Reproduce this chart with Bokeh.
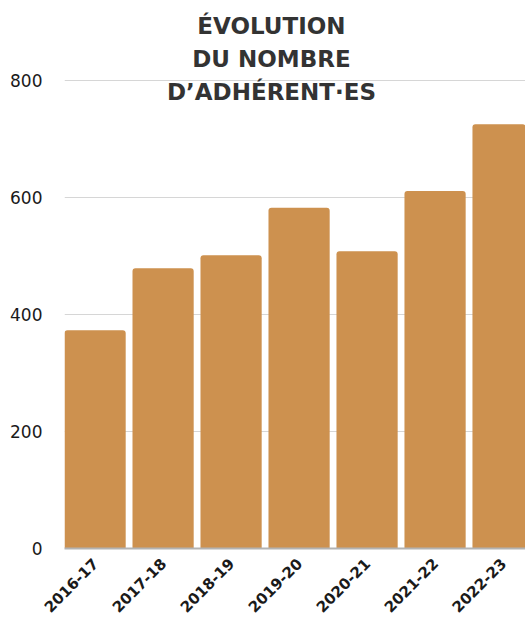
import math
from bokeh.plotting import figure
from bokeh.models import Range1d, FixedTicker, Label
from bokeh.embed import file_html
from bokeh.resources import INLINE

# ---- data ----
seasons = ["2016-17", "2017-18", "2018-19", "2019-20", "2020-21", "2021-22", "2022-23"]
members = [373, 479, 501, 582, 508, 611, 725]
y_ticks = [0, 200, 400, 600, 800]
title_lines = ["ÉVOLUTION", "DU NOMBRE", "D’ADHÉRENT·ES"]

FONT = "DejaVu Sans"
BAR_COLOR = "#CD914F"

xs = list(range(len(seasons)))

p = figure(width=525, height=620, output_backend="svg", toolbar_location=None,
           x_range=Range1d(-0.45, 6.33), y_range=Range1d(0, 936.3),
           min_border_left=64, min_border_right=0, min_border_top=0,
           min_border_bottom=70)
p.outline_line_color = None
p.background_fill_color = "white"
p.border_fill_color = "white"

p.vbar(x=xs, top=members, width=0.9, fill_color=BAR_COLOR, line_color=None,
       border_radius=(3, 3, 0, 0))

# grid
p.xgrid.visible = False
p.ygrid.ticker = FixedTicker(ticks=y_ticks)
p.ygrid.grid_line_color = "#d6d6d6"
p.ygrid.grid_line_width = 1

# y axis
ya = p.yaxis[0]
ya.ticker = FixedTicker(ticks=y_ticks)
ya.axis_line_color = None
ya.major_tick_line_color = None
ya.minor_tick_line_color = None
ya.major_label_standoff = 16
ya.major_label_text_font = FONT
ya.major_label_text_font_size = "17px"
ya.major_label_text_color = "#1a1a1a"

# x axis
xa = p.xaxis[0]
xa.ticker = FixedTicker(ticks=xs)
xa.major_label_overrides = {i: s for i, s in zip(xs, seasons)}
xa.major_label_orientation = math.pi / 4
xa.axis_line_color = "#b3b3b3"
xa.axis_line_width = 2
xa.major_tick_line_color = None
xa.minor_tick_line_color = None
xa.major_label_standoff = 6
xa.major_label_text_font = FONT
xa.major_label_text_font_size = "15px"
xa.major_label_text_font_style = "bold"
xa.major_label_text_color = "#1a1a1a"

# title (three centred lines)
title_x = 2.594
title_ys = [893, 837, 780]
for txt, ty in zip(title_lines, title_ys):
    p.add_layout(Label(x=title_x, y=ty, text=txt, text_align="center",
                       text_baseline="alphabetic", text_font=FONT,
                       text_font_size="23px", text_font_style="bold",
                       text_color="#333333"))

open("out.html", "w").write(file_html(p, INLINE))
